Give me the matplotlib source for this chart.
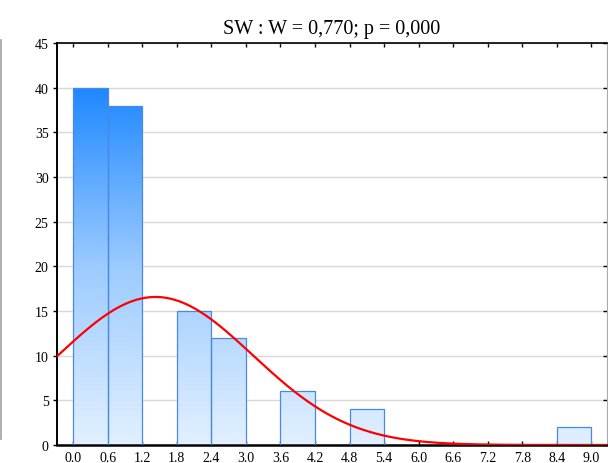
import numpy as np
import matplotlib
matplotlib.use("Agg")
import matplotlib.pyplot as plt
from matplotlib.colors import LinearSegmentedColormap
from matplotlib.lines import Line2D

# Data
bin_left = [0.0, 0.6, 1.8, 2.4, 3.6, 4.8, 8.4]
counts = [40, 38, 15, 12, 6, 4, 2]
bin_width = 0.6
fit_mean = 1.43
fit_sd = 1.69
title = "SW : W = 0,770; p = 0,000"
xticks = [round(0.6 * i, 1) for i in range(16)]
yticks = list(range(0, 50, 5))

plt.rcParams['font.family'] = ['Liberation Serif', 'DejaVu Serif']

fig = plt.figure(figsize=(6.08, 4.64), dpi=100)
ax = fig.add_axes([0.0938, 0.0388, 0.9046, 0.8664])

xlim = (-0.28, 9.27)
ylim = (0, 45)

ax.set_axisbelow(True)
ax.yaxis.grid(True, color='#d9d9d9', linewidth=1.0)

cmap = LinearSegmentedColormap.from_list('g', ['#e2f0ff', '#9ccbff', '#1e88ff'])
grad = np.linspace(0, 1, 256).reshape(-1, 1)

bars = ax.bar(bin_left, counts, width=bin_width, align='edge',
              facecolor='none', edgecolor='#4a88e8', linewidth=0.9, zorder=3)
for b in bars:
    im = ax.imshow(grad, cmap=cmap, aspect='auto', origin='lower',
                   extent=[xlim[0], xlim[1], 0, 40], zorder=2, vmin=0, vmax=1)
    im.set_clip_path(b)

total = sum(counts)
xs = np.linspace(xlim[0], xlim[1], 400)
ys = total * bin_width * np.exp(-0.5 * ((xs - fit_mean) / fit_sd) ** 2) / (fit_sd * np.sqrt(2 * np.pi))
ax.plot(xs, ys, color='#ff0000', linewidth=1.6, zorder=4)

ax.set_xlim(*xlim)
ax.set_ylim(*ylim)
ax.set_xticks(xticks)
ax.set_xticklabels([f"{t:.1f}" for t in xticks], fontsize=10)
ax.set_yticks(yticks)
ax.set_yticklabels([str(t) for t in yticks], fontsize=10)
ax.tick_params(axis='x', direction='in', length=3, width=1, top=True, pad=4)
ax.tick_params(axis='y', direction='out', length=3, width=1, pad=3)
ax.tick_params(axis='y', which='both', right=True)
for t in ax.yaxis.get_major_ticks():
    t.tick2line.set_marker(matplotlib.markers.TICKLEFT)

ax.spines['bottom'].set_linewidth(1.8)
ax.spines['left'].set_linewidth(1.4)
ax.spines['top'].set_linewidth(1.2)
ax.spines['right'].set_linewidth(0.8)
ax.spines['right'].set_color('#aaaaaa')

ax.set_title(title, fontsize=14.5, pad=7)

fig.add_artist(Line2D([0.001, 0.001], [1 - 41 / 464, 1 - 440 / 464],
                      transform=fig.transFigure, color='#a0a0a0', linewidth=1.2))

fig.savefig('out.png', dpi=100)
